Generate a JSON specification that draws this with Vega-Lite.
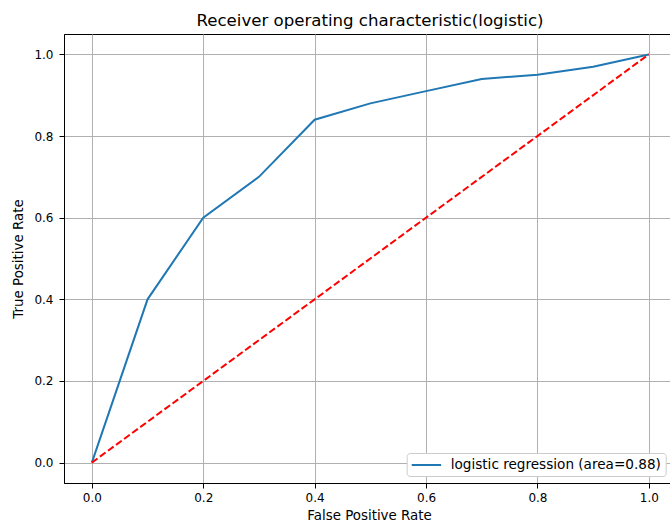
{
  "$schema": "https://vega.github.io/schema/vega-lite/v6.json",
  "autosize": {"type": "none"},
  "padding": {"left": 64, "top": 34, "right": 0, "bottom": 39},
  "width": 606,
  "height": 449,
  "background": "white",
  "title": {
    "text": "Receiver operating characteristic(logistic)",
    "font": "DejaVu Sans",
    "fontSize": 16.6,
    "fontWeight": "normal",
    "color": "#000000",
    "offset": 4,
    "anchor": "middle",
    "dx": 3
  },
  "config": {
    "view": {"stroke": "#000000", "strokeWidth": 1},
    "axis": {
      "grid": true,
      "gridColor": "#b0b0b0",
      "gridWidth": 1,
      "domainColor": "#000000",
      "domainWidth": 1,
      "tickColor": "#000000",
      "tickSize": 5,
      "tickWidth": 1,
      "labelFont": "DejaVu Sans",
      "labelFontSize": 12,
      "labelColor": "#000000",
      "titleFont": "DejaVu Sans",
      "titleFontSize": 13.4,
      "titleFontWeight": "normal",
      "titleColor": "#000000"
    }
  },
  "datasets": {
    "roc": [
      {"fpr": 0.0, "tpr": 0.0, "series": "logistic regression (area=0.88)"},
      {"fpr": 0.1, "tpr": 0.4, "series": "logistic regression (area=0.88)"},
      {"fpr": 0.2, "tpr": 0.6, "series": "logistic regression (area=0.88)"},
      {"fpr": 0.3, "tpr": 0.7, "series": "logistic regression (area=0.88)"},
      {"fpr": 0.4, "tpr": 0.84, "series": "logistic regression (area=0.88)"},
      {"fpr": 0.5, "tpr": 0.88, "series": "logistic regression (area=0.88)"},
      {"fpr": 0.6, "tpr": 0.91, "series": "logistic regression (area=0.88)"},
      {"fpr": 0.7, "tpr": 0.94, "series": "logistic regression (area=0.88)"},
      {"fpr": 0.8, "tpr": 0.95, "series": "logistic regression (area=0.88)"},
      {"fpr": 0.9, "tpr": 0.97, "series": "logistic regression (area=0.88)"},
      {"fpr": 1.0, "tpr": 1.0, "series": "logistic regression (area=0.88)"}
    ],
    "diag": [
      {"fpr": 0.0, "tpr": 0.0},
      {"fpr": 1.0, "tpr": 1.0}
    ]
  },
  "layer": [
    {
      "data": {"name": "roc"},
      "mark": {"type": "line", "strokeWidth": 2, "clip": true},
      "encoding": {
        "x": {
          "field": "fpr", "type": "quantitative",
          "scale": {"domain": [-0.05, 1.038], "nice": false, "zero": false},
          "axis": {"values": [0, 0.2, 0.4, 0.6, 0.8, 1.0], "format": ".1f", "title": "False Positive Rate", "labelPadding": 4, "titlePadding": 5, "titleX": 305}
        },
        "y": {
          "field": "tpr", "type": "quantitative",
          "scale": {"domain": [-0.05, 1.05], "nice": false, "zero": false},
          "axis": {"values": [0, 0.2, 0.4, 0.6, 0.8, 1.0], "format": ".1f", "title": "True Positive Rate", "labelPadding": 6, "titlePadding": 8}
        },
        "color": {
          "field": "series", "type": "nominal",
          "scale": {"domain": ["logistic regression (area=0.88)"], "range": ["#1f77b4"]},
          "legend": {
            "title": null,
            "orient": "none",
            "legendX": 342.7,
            "legendY": 419,
            "symbolType": "M-1,0H3.2",
            "symbolSize": 196,
            "symbolStrokeWidth": 2,
            "labelFont": "DejaVu Sans",
            "labelFontSize": 13.6,
            "labelColor": "#000000",
            "labelOffset": 24,
            "labelLimit": 0,
            "strokeColor": "#cccccc",
            "fillColor": "#ffffff",
            "cornerRadius": 3,
            "padding": 4
          }
        }
      }
    },
    {
      "data": {"name": "diag"},
      "mark": {"type": "line", "color": "#ff0000", "strokeWidth": 2, "strokeDash": [7, 3]},
      "encoding": {
        "x": {"field": "fpr", "type": "quantitative"},
        "y": {"field": "tpr", "type": "quantitative"}
      }
    }
  ]
}
